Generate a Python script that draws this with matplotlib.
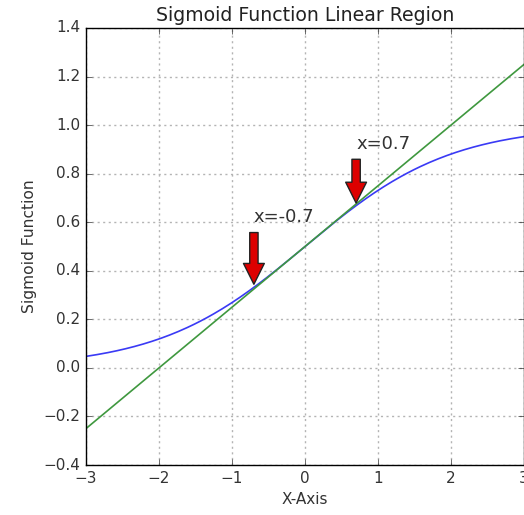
import numpy as np
import matplotlib
matplotlib.use("Agg")
import matplotlib.pyplot as plt

plt.style.use("classic")

# data
x_range = (-3.0, 3.0)
n_points = 200
tangent_slope = 0.25
tangent_intercept = 0.5
annot_x = [-0.7, 0.7]
annot_labels = ["x=-0.7", "x=0.7"]
annot_text_y = [0.6, 0.9]
xticks = [-3, -2, -1, 0, 1, 2, 3]
yticks = [-0.4, -0.2, 0.0, 0.2, 0.4, 0.6, 0.8, 1.0, 1.2, 1.4]


def sigmoid(v):
    return 1.0 / (1.0 + np.exp(-v))


x = np.linspace(x_range[0], x_range[1], n_points)
y_sig = sigmoid(x)
y_lin = tangent_intercept + tangent_slope * x

fig = plt.figure(figsize=(5.24, 5.15), dpi=100, facecolor="white")
ax = fig.add_axes([86 / 524, 50 / 515, 438 / 524, 437 / 515])
ax.set_facecolor("white")
ax.set_axisbelow(True)

ax.plot(x, y_sig, color="#3a3af5", linewidth=1.2)
ax.plot(x, y_lin, color="#3f983f", linewidth=1.2)

for xa, lab, ty in zip(annot_x, annot_labels, annot_text_y):
    ax.annotate(lab, xy=(xa, sigmoid(xa)), xytext=(xa, ty),
                fontsize=13, color="#333333",
                arrowprops=dict(facecolor="#dd0000", edgecolor="#222222",
                                shrink=0.05, width=6, headwidth=15,
                                headlength=15, linewidth=1.0))

ax.set_xlim(*x_range)
ax.set_ylim(-0.4, 1.4)
ax.set_xticks(xticks)
ax.set_yticks(yticks)
ax.grid(True, color="#b4b4b4", linestyle=(0, (1.5, 2.5)), linewidth=1.0)
for sp in ax.spines.values():
    sp.set_zorder(5)
ax.set_title("Sigmoid Function Linear Region", fontsize=13.6, color="#222222")
ax.set_xlabel("X-Axis", fontsize=11, color="#333333")
ax.set_ylabel("Sigmoid Function", fontsize=11.2, color="#333333")
ax.tick_params(labelsize=11, colors="#333333")

fig.savefig("out.png", dpi=100, facecolor="white")
